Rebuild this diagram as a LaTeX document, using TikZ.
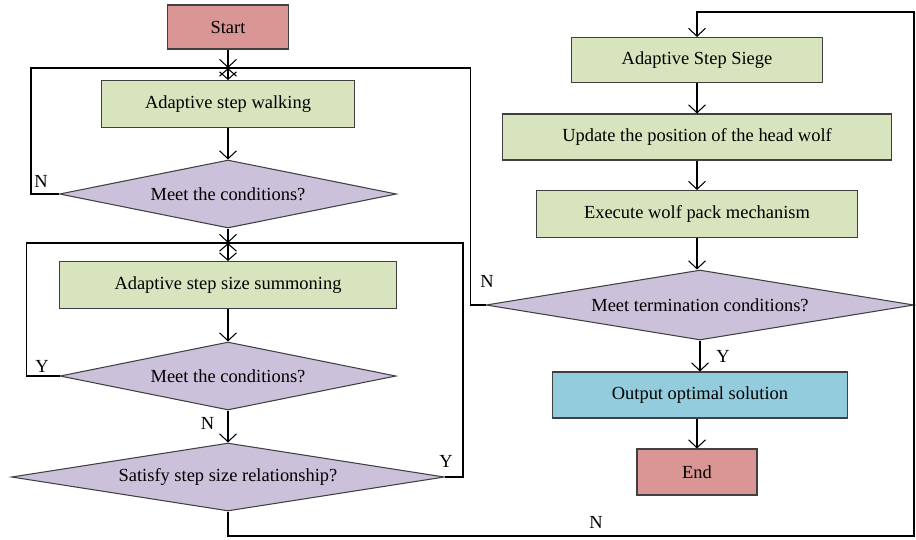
\documentclass[tikz,border=0pt]{standalone}
\usepackage{fontspec}
\setmainfont{Liberation Serif}
\usetikzlibrary{shapes.geometric,arrows.meta}

\definecolor{termred}{HTML}{D99694}
\definecolor{stepgreen}{HTML}{D7E4BD}
\definecolor{testpurple}{HTML}{CCC1DA}
\definecolor{outcyan}{HTML}{93CDDD}

\tikzset{
    terminal/.style={draw=black!75,fill=termred,inner sep=0pt},
    stepbox/.style={draw=black!75,fill=stepgreen,inner sep=0pt},
    testbox/.style={diamond,draw=black!75,fill=testpurple,aspect=5,inner sep=0pt},
    flow/.style={-{Straight Barb[length=1.6mm,width=3.4mm]}},
    twoway/.style={{Straight Barb[length=1.5mm,width=3.4mm]}-{Straight Barb[length=1.5mm,width=3.4mm]}},
    branch/.style={font=\fontsize{10.5}{12}\selectfont},
}

\begin{document}
\begin{tikzpicture}[x=0.02cm,y=-0.02cm,font=\fontsize{10.5}{12}\selectfont,line width=0.6pt]
        % Background
        \useasboundingbox[fill=white] (0,0) rectangle (916,539);

        % Left column
        \node[terminal,minimum width=2.42cm,minimum height=0.88cm] (start) at (228,27) {Start};
        \node[stepbox,minimum width=5.06cm,minimum height=0.94cm] (walk) at (228,104) {Adaptive step walking};
        \node[testbox,minimum width=6.74cm,minimum height=1.36cm] (cond1) at (228,194) {Meet the conditions?};
        \node[stepbox,minimum width=6.74cm,minimum height=0.94cm] (summon) at (228,285) {Adaptive step size summoning};
        \node[testbox,minimum width=6.72cm,minimum height=1.36cm] (cond2) at (228,376) {Meet the conditions?};
        \node[testbox,minimum width=8.66cm,minimum height=1.36cm] (relation) at (228,477) {Satisfy step size relationship?};

        % Right column
        \node[stepbox,minimum width=5.02cm,minimum height=0.90cm] (siege) at (697,60) {Adaptive Step Siege};
        \node[stepbox,minimum width=7.78cm,minimum height=0.92cm] (update) at (697,137) {Update the position of the head wolf};
        \node[stepbox,minimum width=6.42cm,minimum height=0.94cm] (pack) at (697,214) {Execute wolf pack mechanism};
        \node[testbox,minimum width=8.56cm,minimum height=1.40cm] (term) at (700,305) {Meet termination conditions?};
        \node[draw=black!75,fill=outcyan,inner sep=0pt,minimum width=5.9cm,minimum height=0.92cm] (result) at (700,395) {Output optimal solution};
        \node[terminal,minimum width=2.4cm,minimum height=0.92cm] (finish) at (697,472) {End};

        % Junctions
        \coordinate (j1) at (228,68);
        \coordinate (j2) at (228,243);

        % Main flow
        \draw[flow] (start) -- (j1);
        \draw[twoway] (j1) -- (walk);
        \draw[flow] (walk) -- (cond1);
        \draw[flow] (cond1) -- (j2);
        \draw[twoway] (j2) -- (summon);
        \draw[flow] (summon) -- (cond2);
        \draw[flow] (cond2) -- node[branch,left,pos=0.4,xshift=-0.15cm] {N} (relation);
        \foreach \a/\b in {siege/update,update/pack} {
            \draw[flow] (\a) -- (\a.south |- \b.north);
        }
        \draw[flow] (pack.south) -- (pack.south |- term.north);
        \draw[flow] (term.south -| result.north) -- node[branch,right,xshift=0.2cm] {Y} (result);
        \draw[flow] (result.south -| finish.north) -- (finish);

        % Loops back
        \draw (cond1.west) -- ++(-28,0) |- (j1);
        \node[branch] (n1) at (41,181) {N};
        \draw (cond2.west) -- ++(-33,0) |- (j2);
        \node[branch] (y1) at (42,366) {Y};
        \draw (relation.east) -- ++(18,0) |- (j2);
        \node[branch] (y2) at (446,461) {Y};
        \draw (term.west) -- ++(-15,0) |- (j1);
        \node[branch] (n2) at (487,281) {N};
        \draw[flow] (relation.south) |- (914,536) |- (697,12) -- (siege.north);
        \node[branch] (n3) at (596,522) {N};

    \end{tikzpicture}
\end{document}
